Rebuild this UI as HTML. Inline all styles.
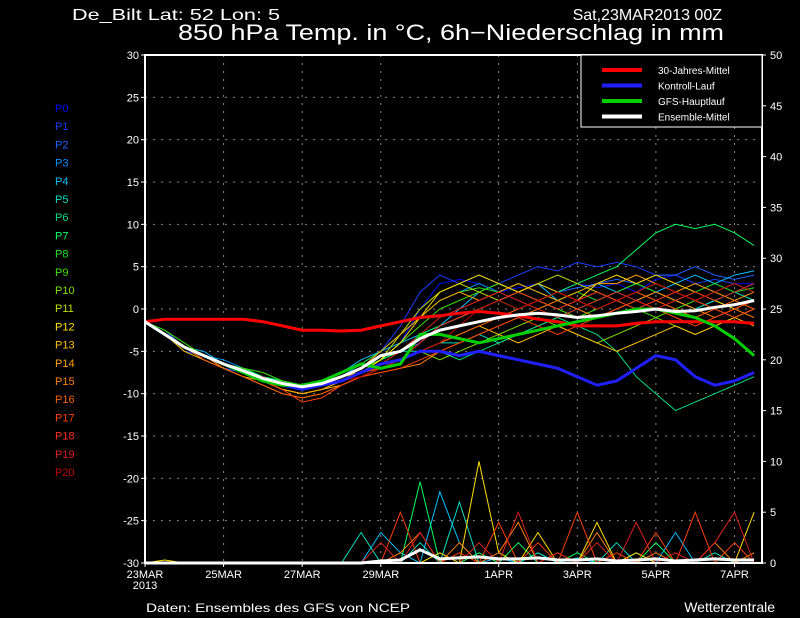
<!DOCTYPE html>
<html><head><meta charset="utf-8"><style>
html,body{margin:0;padding:0;background:#000;}
svg{display:block;font-family:"Liberation Sans",sans-serif;}
</style></head><body>
<svg id="c" width="800" height="618" viewBox="0 0 800 618">
<rect width="800" height="618" fill="#000"/>
<text x="72" y="20" fill="#fff" font-size="16" textLength="208" lengthAdjust="spacingAndGlyphs">De_Bilt   Lat: 52 Lon: 5</text>
<text x="722" y="20" fill="#fff" font-size="16" text-anchor="end">Sat,23MAR2013 00Z</text>
<text x="178" y="40" fill="#fff" font-size="22" textLength="546" lengthAdjust="spacingAndGlyphs">850 hPa Temp. in °C, 6h−Niederschlag in mm</text>
<text x="146" y="612" fill="#fff" font-size="12" textLength="264" lengthAdjust="spacingAndGlyphs">Daten: Ensembles des GFS von NCEP</text>
<text x="775" y="612" fill="#fff" font-size="14" text-anchor="end">Wetterzentrale</text>
<g id="grid"></g><g id="prec"></g><g id="series"></g><g id="axes"></g><g id="legend"></g><g id="members"></g>
</svg>
<script>
const days=[];for(let i=0;i<32;i++)days.push(i*0.5);
const yTicks=[30,25,20,15,10,5,0,-5,-10,-15,-20,-25,-30];
const rTicks=[50,45,40,35,30,25,20,15,10,5,0];
const dateLabels=["23MAR","25MAR","27MAR","29MAR","1APR","3APR","5APR","7APR"];
const dateDays=[0,2,4,6,9,11,13,15];
const memberColors=["#0000ff","#1a3cff","#2060ff","#0090ff","#00c0ff","#00e0c0","#00e080","#00ff60","#20e020","#40e000","#80e000","#c0e000","#ffe000","#ffc000","#ffa000","#ff8000","#ff6000","#ff4000","#ff3020","#e02020","#c00000"];
const members=[
[-1.5,-3,-4.5,-5.5,-6.5,-7,-8,-8.5,-9,-9,-8,-7,-6,-4,0,3,3.5,3,2,2.5,3,2,3,2.5,3,2,3.5,4,3,2,3,3],
[-1.5,-3,-5,-5.5,-6.5,-7.5,-8,-9,-9.5,-9,-8,-7,-5,-2,2,4,3,4,3,4,5,4.5,5.5,5,5.5,5,4,4,3,3.5,3,2],
[-1.5,-2.5,-4.5,-6,-7,-7.5,-8.5,-9,-9,-8.5,-8,-7,-6,-5,-4,-2,-1,0,1,2,1,2,2.5,3,3.5,3,4,4,5,4,3.5,4],
[-1.5,-3,-4.5,-5.5,-6,-7,-8,-8.5,-9,-8.5,-8,-6.5,-5,-3,-1,1,2,3,2,3,2,1,0,-1,0,1,2,1,0,1,2,3],
[-1.5,-3,-4.5,-5,-6.5,-7,-8,-8.5,-9,-8.5,-7.5,-6,-5,-4,-3,-2,0,2,3,2,3,1,2,3,2,1,2,3,4,3,4,4.5],
[-1.5,-3,-4.5,-5.5,-6.5,-7.5,-8,-9,-9,-8.5,-8,-7,-6,-5,-5,-4,-4,-3,-4,-3,-2,-1,0,1,2,3,2,1,0,1,2,1],
[-1.5,-3,-4.5,-5.5,-6.5,-7.5,-8.5,-9,-9.5,-9,-8.5,-7.5,-7,-6,-5,-5,-6,-5,-4,-3,-2,-1,-2,-3,-5,-8,-10,-12,-11,-10,-9,-8],
[-1.5,-3,-4.5,-5.5,-6.5,-7,-8,-8.5,-9,-9,-8,-7,-6,-5,-3,-2,-1,0,1,0,1,2,3,4,5,7,9,10,9.5,10,9,7.5],
[-1.5,-3,-4.5,-5.5,-6.5,-7.5,-8.5,-9,-9,-8.5,-7.5,-6.5,-5,-3,-1,1,2,2.5,2,3,2,1,2,1,2,3,2,1,2,3,2,2.5],
[-1.5,-2.5,-4,-5.5,-6.5,-7,-7.5,-8.5,-9,-8.5,-8,-7,-6,-4,-2,0,1,2,3,2,1,0,-1,0,1,0,-1,0,1,0,-1,0],
[-1.5,-3,-4.5,-5.5,-6.5,-7.5,-8.5,-9,-9,-8.5,-8,-7.5,-7,-6,-5,-6,-5,-4,-3,-2,-1,-2,-3,-4,-3,-2,-1,-2,-3,-2,-1,0],
[-1.5,-3,-4.5,-5.5,-6.5,-7.5,-8.5,-9.5,-10,-9.5,-8.5,-7.5,-6,-3,0,2,3,2,1,2,3,4,3,2,1,2,3,2,1,2,3,2],
[-1.5,-3,-4.5,-5.5,-6.5,-7.5,-8.5,-9,-9.5,-9,-8.5,-7.5,-6,-4,-1,2,3,4,3,2,3,2,1,3,4,3,4,3,2,1,0,1],
[-1.5,-3,-5,-6,-7,-8,-8.5,-9.5,-10,-9.5,-9,-8,-7,-6,-5,-4,-3,-2,-3,-4,-3,-2,-3,-4,-5,-4,-3,-2,-3,-2,-1,-2],
[-1.5,-3,-4.5,-5.5,-6.5,-7.5,-8.5,-9.5,-10,-9.5,-8.5,-7,-5,-3,-1,1,2,1,2,3,2,1,2,3,3,4,3,2,3,2,1,2],
[-1.5,-3,-4.5,-5.5,-7,-8,-9,-10,-10.5,-10,-9,-8,-7.5,-7,-6.5,-5,-4,-3,-2,-1,0,1,0,-1,0,1,2,1,0,-1,0,-1],
[-1.5,-3,-4.5,-6,-7,-8,-9,-10,-10.5,-10,-9,-8,-7,-6,-5,-4,-3,-2,-1,0,1,2,1,0,1,2,1,0,-1,0,1,0],
[-1.5,-3,-4.5,-5.5,-6.5,-7.5,-8.5,-9.5,-11,-10.5,-9,-8,-7.5,-7,-6,-5,-4,-3,-2,-1,-2,-3,-2,-1,0,1,0,-1,-2,-1,0,1],
[-1.5,-3,-4.5,-5.5,-6.5,-7.5,-8.5,-9,-9.5,-9,-8.5,-7.5,-7,-6,-4,-2,-1,0,1,2,1,0,1,2,1,0,1,2,1,0,-1,0],
[-1.5,-3,-4.5,-5.5,-6.5,-7.5,-8,-9,-9.5,-9,-8.5,-7.5,-6.5,-5,-3,-1,0,1,2,1,0,-1,0,1,2,1,0,1,2,1,2,3],
[-1.5,-3,-4.5,-5.5,-6.5,-7.5,-8,-9,-9.5,-9,-8.5,-8,-7,-6,-5,-4,-2,0,1,0,1,2,1,0,1,2,3,2,1,2,3,2]];
const meanT=[-1.5,-3,-4.5,-5.5,-6.5,-7.3,-8.2,-8.8,-9.2,-8.8,-8,-7,-5.5,-5,-3.5,-2.5,-2,-1.5,-1,-0.7,-0.5,-0.7,-1,-0.8,-0.5,-0.3,0,-0.3,-0.2,0.2,0.5,1];
const controlT=[-1.5,-3,-4.5,-5.5,-6.5,-7.5,-8.5,-9,-9.5,-9,-8.5,-7.5,-6.5,-6,-5,-5,-5.5,-5,-5.5,-6,-6.5,-7,-8,-9,-8.5,-7,-5.5,-6,-8,-9,-8.5,-7.5];
const gfsT=[-1.5,-3,-4.5,-5.5,-6.5,-7.5,-8.5,-9,-9,-8.5,-7.5,-6.5,-7,-6.5,-3,-3,-3.5,-4,-3.5,-3,-2.5,-2,-1.5,-1,-0.5,0,0,-0.5,-1,-2,-3.5,-5.5];
const climT=[-1.5,-1.2,-1.2,-1.2,-1.2,-1.2,-1.5,-2,-2.5,-2.5,-2.6,-2.5,-2,-1.5,-1,-0.8,-0.5,-0.3,-0.5,-0.8,-1.2,-1.5,-2,-2,-2,-1.7,-1.5,-1.5,-1.5,-1.5,-1.5,-1.7];
const precMembers=[4,5,7,12,15,17,19];
const precValues=[
[0,0,0,0,0,0,0,0,0,0,0,0,3,1,0,7,2,0,0.5,0,1,0,0.5,0,0,1,0,3,0,0,0,0],
[0,0,0,0,0,0,0,0,0,0,0,3,0,0,2,0,6,0,0,0,1,0,0,0,2,0,0,0,0,1,0,0],
[0,0,0,0,0,0,0,0,0,0,0,0,0,0,8,0,0,1,0,2,0,0,1,0,0,0,2,0,0,0,0,0],
[0,0.3,0,0,0,0,0,0,0,0,0,0,0,0,0,1,0,10,1,0,3,0,0,4,0,1,0,0,0,0,0,5],
[0,0,0,0,0,0,0,0,0,0,0,0,0,1,3,0,2,0,1,4,0,1,0,3,0,0,1,0,0,2,0,1],
[0,0,0,0,0,0,0,0,0,0,0,0,0,5,0,0,1,0,4,0,2,0,5,0,1,0,3,0,5,0,2,0],
[0,0,0,0,0,0,0,0,0,0,0,0,2,0,3,0,0,2,0,5,0,1,0,2,0,4,0,1,0,2,5,0]];
const meanP=[0,0,0,0,0,0,0,0,0,0,0,0,0.2,0.3,1.3,0.4,0.5,0.6,0.4,0.4,0.5,0.3,0.3,0.4,0.2,0.3,0.4,0.2,0.3,0.4,0.3,0.3];

const L=145,R=762,T=55,B=563,DX=39.3;
const xs=d=>L+d*DX;
const yT=v=>T+(30-v)*(B-T)/60;
const yP=v=>B-v*(B-T)/50;
const NS="http://www.w3.org/2000/svg";
function mk(tag,parent,attrs){const e=document.createElementNS(NS,tag);for(const k in attrs)e.setAttribute(k,attrs[k]);document.getElementById(parent).appendChild(e);return e;}
function pts(arr,f){return arr.map((v,i)=>xs(days[i]).toFixed(1)+","+f(v).toFixed(1)).join(" ");}

yTicks.forEach(v=>{
  const y=yT(v);
  if(v!==30&&v!==-30){const g=mk("line","grid",{x1:L,x2:R,y1:y,y2:y,stroke:"#888","stroke-dasharray":"2,6","stroke-width":1});
  
  }
  const tk=mk("line","axes",{x1:L-4,x2:L,y1:y,y2:y,stroke:"#fff"});
  
  
  const t=mk("text","axes",{x:L-6,y:y+4,fill:"#fff","font-size":11,"text-anchor":"end"});t.textContent=v;
  
  
});
rTicks.forEach(v=>{
  const y=yP(v);
  const tk=mk("line","axes",{x1:R,x2:R+4,y1:y,y2:y,stroke:"#fff"});
  
  
  const t=mk("text","axes",{x:R+8,y:y+4,fill:"#fff","font-size":11});t.textContent=v;
  
  
});
dateLabels.forEach((lab,i)=>{
  const x=xs(dateDays[i]);
  if(i>0){const g=mk("line","grid",{x1:x,x2:x,y1:T,y2:B,stroke:"#888","stroke-dasharray":"2,6"});
  
  }
  const tk=mk("line","axes",{x1:x,x2:x,y1:B,y2:B+4,stroke:"#fff"});
  
  
  const t=mk("text","axes",{x:x,y:B+15,fill:"#fff","font-size":11,"text-anchor":"middle"});t.textContent=lab;
  
  
});
const yr=mk("text","axes",{x:xs(0),y:B+26,fill:"#fff","font-size":11,"text-anchor":"middle"});yr.textContent="2013";


const fr=mk("rect","axes",{x:L,y:T,width:R-L,height:B-T,fill:"none",stroke:"#fff","stroke-width":2});



precMembers.forEach((m,k)=>{
  const p=mk("polyline","prec",{points:pts(precValues[k],yP),fill:"none",stroke:memberColors[m],"stroke-width":1});
  
  
});
const mp=mk("polyline","prec",{points:pts(meanP,yP),fill:"none",stroke:"#fff","stroke-width":3});



members.forEach((arr,m)=>{
  const p=mk("polyline","series",{points:pts(arr,yT),fill:"none",stroke:memberColors[m],"stroke-width":1});
  
  
});
[[climT,"#ff0000","climate-mean-line"],[controlT,"#2020ff","control-run-line"],[gfsT,"#00d000","gfs-main-line"],[meanT,"#ffffff","ensemble-mean-line"]].forEach(s=>{
  const p=mk("polyline","series",{points:pts(s[0],yT),fill:"none",stroke:s[1],"stroke-width":3});
  
  
});

const lb=mk("rect","legend",{x:581,y:55,width:181,height:72,fill:"#000",stroke:"#fff","stroke-width":1});


[["30-Jahres-Mittel","#ff0000"],["Kontroll-Lauf","#2020ff"],["GFS-Hauptlauf","#00d000"],["Ensemble-Mittel","#ffffff"]].forEach((e,i)=>{
  const y=70+i*15.5;
  const l=mk("line","legend",{x1:602,x2:642,y1:y,y2:y,stroke:e[1],"stroke-width":4});
  
  
  const t=mk("text","legend",{x:658,y:y+4,fill:"#fff","font-size":10});t.textContent=e[0];
  
  
});
memberColors.forEach((c,m)=>{
  const t=mk("text","members",{x:55,y:112+m*18.2,fill:c,"font-size":11});t.textContent="P"+m;
  
  
});
</script>
</body></html>
